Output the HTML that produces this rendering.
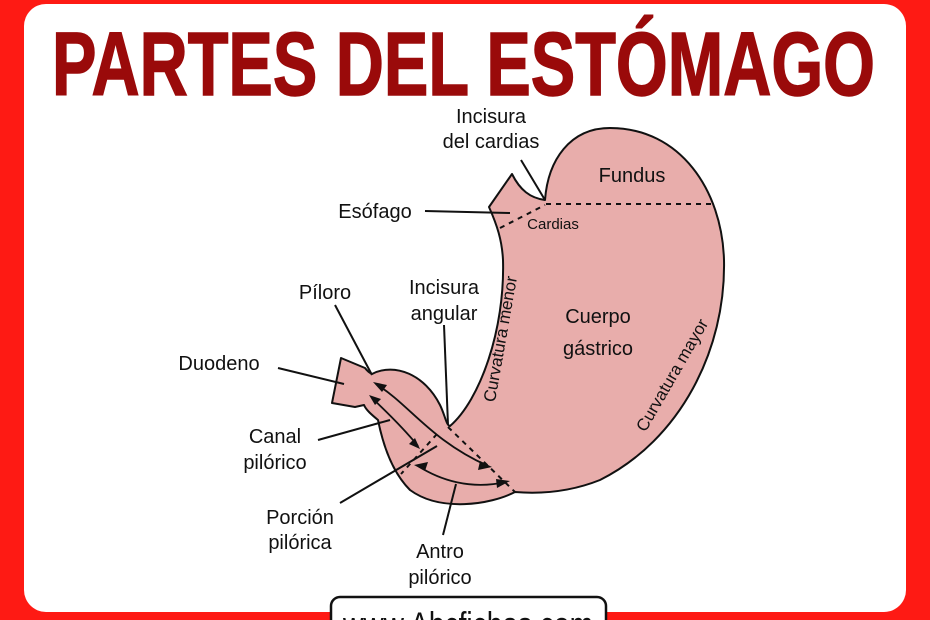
<!DOCTYPE html>
<html><head><meta charset="utf-8"><style>
html,body{margin:0;padding:0;width:930px;height:620px;overflow:hidden;background:#fe1a14}
svg{display:block}
text{font-family:"Liberation Sans",sans-serif;fill:#111}
</style></head><body>
<svg width="930" height="620" viewBox="0 0 930 620">
<rect x="0" y="0" width="930" height="620" fill="#fe1a14"/>
<rect x="24" y="4" width="882" height="608" rx="22" fill="#fff"/>
<text x="52" y="95" font-size="90" font-weight="bold" textLength="823" lengthAdjust="spacingAndGlyphs" style="fill:#9a0a0a;stroke:#9a0a0a;stroke-width:1.5">PARTES DEL ESTÓMAGO</text>

<path d="M489,207 L512,174 C520,190 530,198 545,200 C548,160 570,128 610,128 C680,128 722,190 724,260 C726,350 680,440 600,480 C570,492 540,494 515,492 C490,505 440,512 410,490 C390,470 382,440 378,420 C372,415 366,410 364,405 L355,407 L332,403 L341,358 L365,368 C368,372 370,373 372,374 C395,362 425,375 440,405 C445,415 446,425 450,426 C480,400 505,330 503,260 C502,240 497,225 489,207 Z" fill="#e8adab" stroke="#111" stroke-width="2" stroke-linejoin="round"/>

<g stroke="#111" stroke-width="2" stroke-dasharray="5,5" fill="none">
<line x1="546" y1="204" x2="716" y2="204"/>
<line x1="500" y1="228" x2="545" y2="205"/>
<line x1="448" y1="427" x2="515" y2="492"/>
<line x1="437" y1="434" x2="401" y2="474"/>
</g>

<g stroke="#111" stroke-width="1.8" fill="none">
<path d="M376,384 C410,405 430,440 488,466"/>
<path d="M372,398 C390,415 405,430 418,446"/>
<path d="M418,466 C440,480 470,490 506,482"/>
</g>
<g fill="#111">
<polygon points="373,382 387,385 382,392"/>
<polygon points="492,467 478,470 480,461"/>
<polygon points="369,395 381,399 375,405"/>
<polygon points="420,449 409,444 415,438"/>
<polygon points="414,465 428,462 425,471"/>
<polygon points="510,481 497,488 496,479"/>
</g>

<g stroke="#111" stroke-width="2" fill="none">
<line x1="521" y1="160" x2="545" y2="200"/>
<line x1="425" y1="211" x2="510" y2="213"/>
<line x1="335" y1="305" x2="372" y2="375"/>
<line x1="444" y1="325" x2="448" y2="425"/>
<line x1="278" y1="368" x2="344" y2="384"/>
<line x1="318" y1="440" x2="390" y2="420"/>
<line x1="340" y1="503" x2="437" y2="446"/>
<line x1="443" y1="535" x2="456" y2="484"/>
</g>

<g font-size="20" text-anchor="middle">
<text x="491" y="123">Incisura</text>
<text x="491" y="148">del cardias</text>
<text x="632" y="182">Fundus</text>
<text x="375" y="218">Esófago</text>
<text x="325" y="299">Píloro</text>
<text x="444" y="294">Incisura</text>
<text x="444" y="320">angular</text>
<text x="598" y="323">Cuerpo</text>
<text x="598" y="355">gástrico</text>
<text x="219" y="370">Duodeno</text>
<text x="275" y="443">Canal</text>
<text x="275" y="469">pilórico</text>
<text x="300" y="524">Porción</text>
<text x="300" y="549">pilórica</text>
<text x="440" y="558">Antro</text>
<text x="440" y="584">pilórico</text>
</g>
<text x="553" y="229" font-size="15" text-anchor="middle">Cardias</text>
<text x="0" y="0" font-size="17" text-anchor="middle" transform="translate(506,340) rotate(-80)">Curvatura menor</text>
<text x="0" y="0" font-size="17" text-anchor="middle" transform="translate(677,378) rotate(-60)">Curvatura mayor</text>

<rect x="331" y="597" width="275" height="40" rx="9" fill="#fff" stroke="#111" stroke-width="2.5"/>
<text x="468" y="636" font-size="34" text-anchor="middle" textLength="250" lengthAdjust="spacingAndGlyphs">www.Abcfichas.com</text>
</svg>
</body></html>
